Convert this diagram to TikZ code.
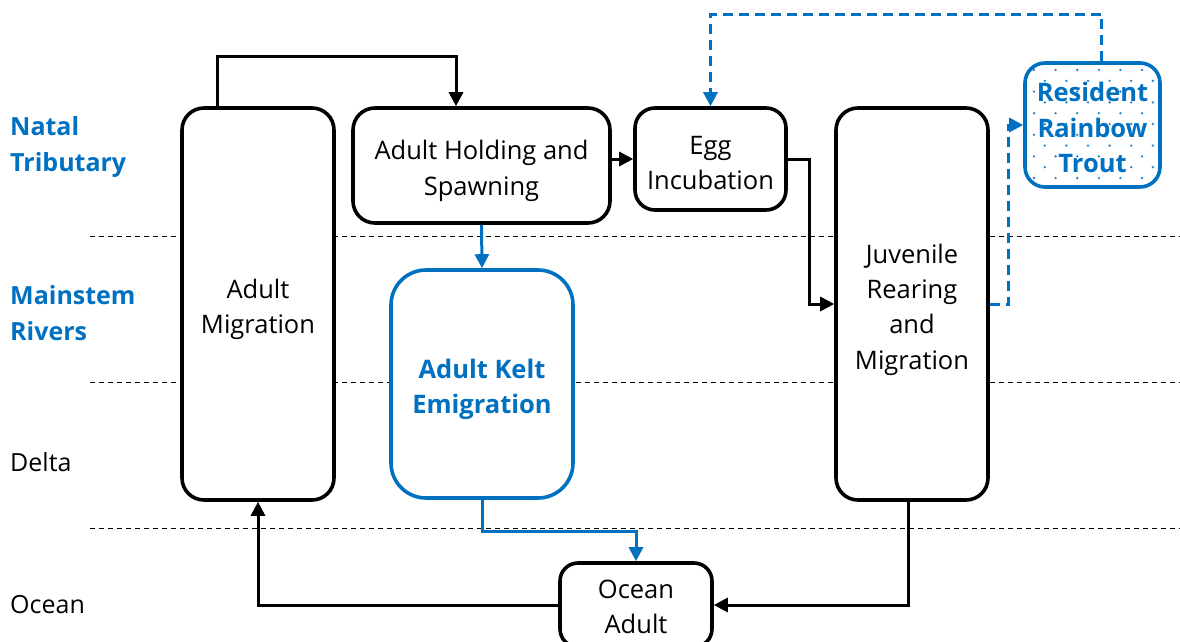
\documentclass[tikz,border=0pt]{standalone}
\usepackage{fontspec}
\setmainfont{Open Sans}
\usetikzlibrary{arrows.meta,calc}
\definecolor{mblue}{HTML}{0070C0}
\begin{document}
\begin{tikzpicture}[x=1pt,y=-1pt,
  box/.style={draw=black,line width=3.6pt,fill=white,rounded corners=22pt,inner sep=0pt},
  bluebox/.style={box,draw=mblue},
  tl/.style={align=center,inner sep=0pt,font=\fontsize{25.5}{35.3}\selectfont,yshift=-5.5pt},
  tlb/.style={tl,text=mblue,font=\fontsize{25.5}{35.3}\selectfont\bfseries},
  conn/.style={draw=black,line width=3pt,-{Triangle[length=14pt,width=14pt]}},
  bconn/.style={conn,draw=mblue,-{Triangle[length=14pt,width=14pt,fill=mblue]}},
  dconn/.style={bconn,dash pattern=on 10pt off 6pt},
  sep/.style={draw=black,line width=1pt,dash pattern=on 5pt off 4pt},
  lab/.style={anchor=west,align=left,inner sep=0pt,font=\fontsize{25}{35.3}\selectfont},
  blab/.style={lab,text=mblue,font=\fontsize{25}{35.3}\selectfont\bfseries}
]
\useasboundingbox (0,0) rectangle (1180,642);
% zone separators
\draw[sep] (90,236) -- (1180,236);
\draw[sep] (90,382) -- (1180,382);
\draw[sep] (90,528) -- (1180,528);
% zone labels
\node[blab] (nt) at (10,147) {Natal\\Tributary};
\node[blab] (mr) at (10,313) {Mainstem\\Rivers};
\node[lab] (dl) at (10,462) {Delta};
\node[lab] (oc) at (10,605) {Ocean};
% boxes
\node[box,minimum width=152pt,minimum height=392pt,
  label={[tl]center:{Adult\\Migration}}] (AM) at (258,304) {};
\node[box,minimum width=257pt,minimum height=115pt,
  label={[tl]center:{Adult Holding and\\Spawning}}] (AH) at (481.5,165.5) {};
\node[box,minimum width=151pt,minimum height=102pt,rounded corners=20pt,
  label={[tl,yshift=1.5pt]center:{Egg\\Incubation}}] (Egg) at (710.5,159) {};
\node[box,minimum width=152pt,minimum height=392pt,
  label={[tl]center:{Juvenile\\Rearing\\and\\Migration}}] (Juv) at (912,304) {};
\node[bluebox,minimum width=182pt,minimum height=228pt,rounded corners=35pt,
  label={[tlb]center:{Adult Kelt\\Emigration}}] (Kelt) at (482,384) {};
\node[box,minimum width=152pt,minimum height=84pt,rounded corners=18pt,
  label={[tl,yshift=3.5pt]center:{Ocean\\Adult}}] (OA) at (636,605) {};
\node[bluebox,minimum width=135pt,minimum height=124pt,rounded corners=20pt,
  path picture={
    \foreach \r in {0,...,11}{
      \pgfmathsetmacro{\off}{mod(\r,2)==0 ? 9 : 19.8}
      \foreach \c in {0,...,6}{
        \fill[mblue!85] ($(path picture bounding box.north west)+(\off pt+\c*21.6pt,-7pt-\r*10.8pt)$) circle (1.3pt);
      }
    }
  },
  label={[tlb,yshift=3pt]center:{Resident\\Rainbow\\Trout}}] (RT) at (1092.5,125) {};
% connectors
\draw[conn] ([xshift=-41pt]AM.north) -- ++(0,-50) -| ([xshift=-25.5pt]AH.north);
\draw[conn] (AH.east |- Egg.west) -- (Egg.west);
\draw[conn] (Egg.east) -- ++(22,0) |- (Juv.west);
\draw[conn] ([xshift=-4pt]Juv.south) |- (OA.east);
\draw[conn] (OA.west) -| (AM.south);
\draw[bconn] (AH.south) -- (Kelt.north);
\draw[bconn] (Kelt.south) -- ++(0,32) -| (OA.north);
\draw[dconn] (Juv.east) -- ++(19,0) |- (RT.west);
\draw[dconn] ([xshift=9pt]RT.north) -- ++(0,-47) -| (Egg.north);
\end{tikzpicture}
\end{document}
